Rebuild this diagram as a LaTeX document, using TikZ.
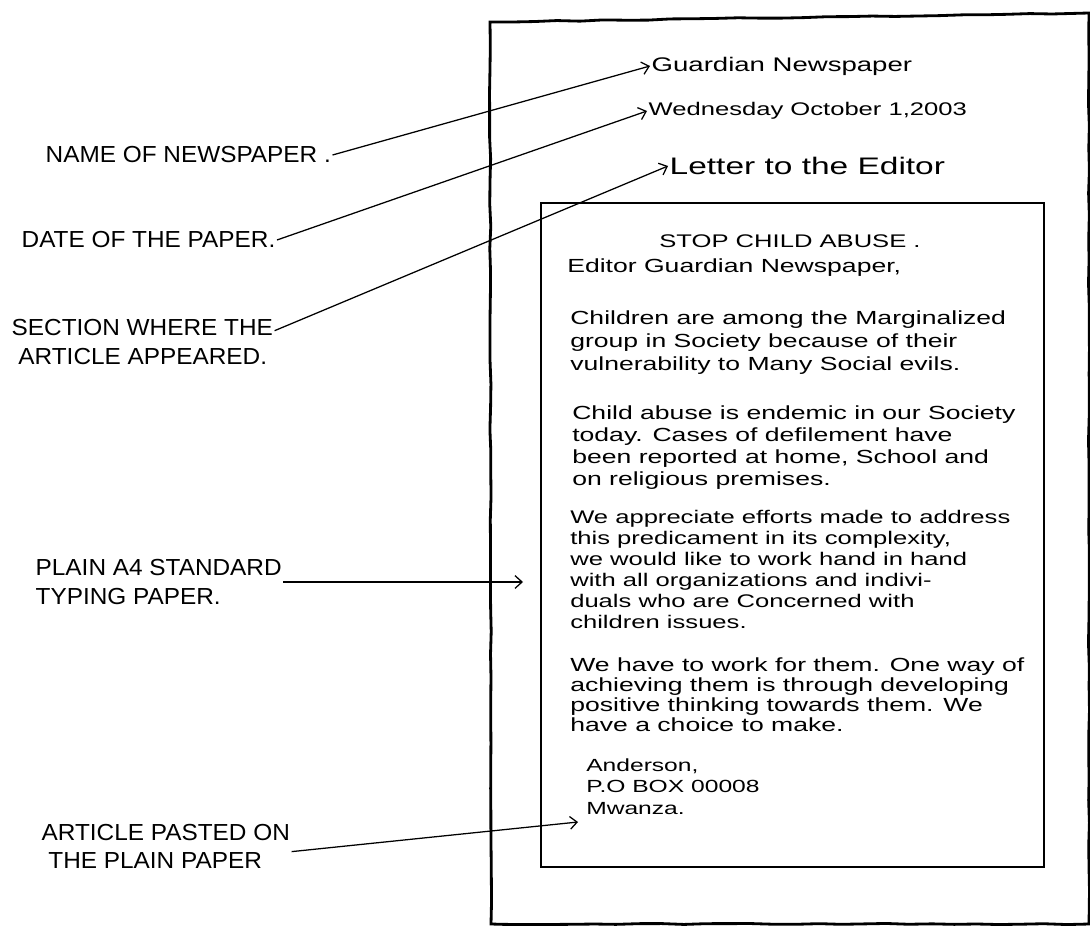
\documentclass[tikz,border=0pt]{standalone}
\usepackage{fontspec}
\newfontfamily\hand[FakeStretch=1.4]{Liberation Sans}
\newfontfamily\handcaps[FakeStretch=1.05]{Liberation Sans}
\usetikzlibrary{arrows.meta,decorations.pathmorphing}
\begin{document}
\begin{tikzpicture}[x=0.025cm,y=-0.025cm,>={Straight Barb[length=5pt,width=9pt]},
  tag/.style={font=\handcaps\fontsize{16.5}{20}\selectfont,align=left,anchor=west,inner sep=1pt},
  head/.style={font=\hand\fontsize{13}{17}\selectfont,anchor=west,inner sep=1pt},
  body/.style={font=\hand\fontsize{13.5}{15.6}\selectfont,anchor=north west,align=left,inner sep=0pt},
  pointer/.style={->,line width=0.9pt},
  sketch/.style={decorate,decoration={random steps,segment length=16pt,amplitude=0.4pt}}]
  \useasboundingbox (0,0) rectangle (1090,926);
  % the plain sheet and the cutting
  \draw[line width=2pt,sketch] (490,22) -- (1089,13) -- (1089,924) -- (491,924) -- cycle;
  \draw[line width=1.2pt] (541,203) rectangle (1044,867);
  % header on the sheet
  \node[head,font=\hand\fontsize{14}{17}\selectfont] (paper) at (650,66) {Guardian Newspaper};
  \node[head] (day) at (647,111) {Wednesday October 1,2003};
  \node[head,font=\hand\fontsize{17}{20}\selectfont] (column) at (668,166) {Letter to the Editor};
  % the cutting
  \node[font=\hand\fontsize{13}{16}\selectfont] (title) at (790,241) {STOP CHILD ABUSE .};
  \node[body,anchor=west] (greet) at (567,268) {Editor Guardian Newspaper,};
  \node[body,font=\hand\fontsize{13.5}{16.5}\selectfont] (parA) at (570,310) {Children are among the Marginalized\\group in Society because of their\\vulnerability to Many Social evils.};
  \node[body,font=\hand\fontsize{13.5}{15.8}\selectfont] (parB) at (572,405) {Child abuse is endemic in our Society\\today. Cases of defilement have\\been reported at home, School and\\on religious premises.};
  \node[body,font=\hand\fontsize{13}{15}\selectfont] (parC) at (570,510) {We appreciate efforts made to address\\this predicament in its complexity,\\we would like to work hand in hand\\with all organizations and indivi-\\duals who are Concerned with\\children issues.};
  \node[body,font=\hand\fontsize{13.5}{14.4}\selectfont] (parD) at (570,657) {We have to work for them. One way of\\achieving them is through developing\\positive thinking towards them. We\\have a choice to make.};
  \node[body,font=\hand\fontsize{12.5}{15.5}\selectfont] (sign) at (586,758) {Anderson,\\P.O BOX 00008\\Mwanza.};
  % labels on the left
  \node[tag] (nameL) at (44,155) {NAME OF NEWSPAPER .};
  \node[tag] (dateL) at (20,240) {DATE OF THE PAPER.};
  \node[tag] (sectL) at (10,342) {SECTION WHERE THE\\\ ARTICLE APPEARED.};
  \node[tag] (plainL) at (34,582) {PLAIN A4 STANDARD\\TYPING PAPER.};
  \node[tag] (pasteL) at (40,846) {ARTICLE PASTED ON\\\ THE PLAIN PAPER};
  \coordinate (sheet) at (523,582);
  \coordinate (cut) at (578,822);
  \draw[pointer] (nameL.east) -- (paper.west);
  \draw[pointer] (dateL.east) -- (day.west);
  \draw[pointer] ([yshift=-9pt]sectL.north east) -- (column.west);
  \draw[pointer] (plainL.east) -- (sheet);
  \draw[pointer] ([yshift=-4pt]pasteL.east) -- (cut);
\end{tikzpicture}
\end{document}
